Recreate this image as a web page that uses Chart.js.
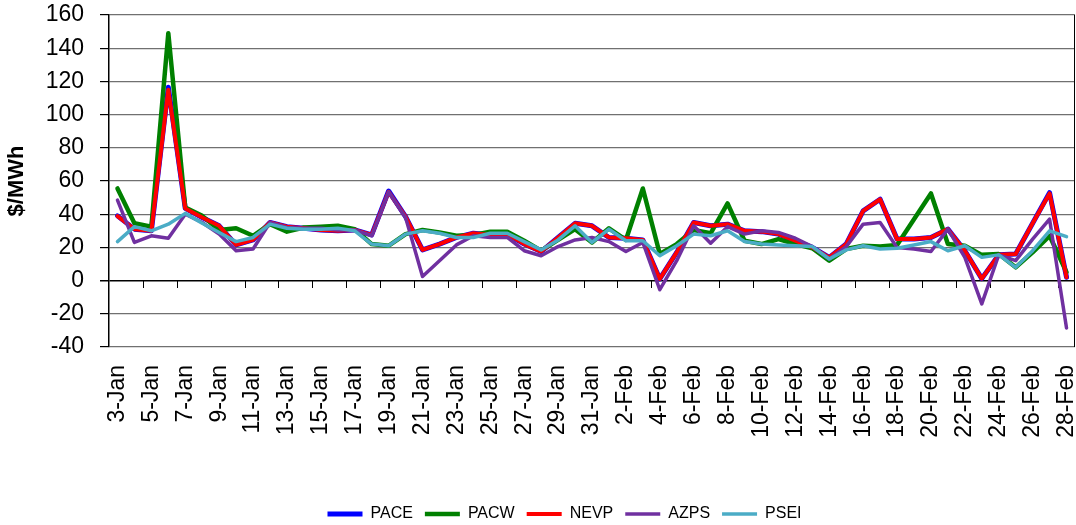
<!DOCTYPE html>
<html>
<head>
<meta charset="utf-8">
<script src="https://cdn.jsdelivr.net/npm/chart.js@4.4.1/dist/chart.umd.min.js"></script>
<style>
  html, body { margin: 0; padding: 0; background: #fff; }
  #wrap { width: 1076px; height: 525px; }
</style>
</head>
<body>
<div id="wrap"><canvas id="c" width="1076" height="525"></canvas></div>
<script>
// Daily categories, 3 Jan – 28 Feb
const dates = [
  '3-Jan','4-Jan','5-Jan','6-Jan','7-Jan','8-Jan','9-Jan','10-Jan','11-Jan','12-Jan',
  '13-Jan','14-Jan','15-Jan','16-Jan','17-Jan','18-Jan','19-Jan','20-Jan','21-Jan','22-Jan',
  '23-Jan','24-Jan','25-Jan','26-Jan','27-Jan','28-Jan','29-Jan','30-Jan','31-Jan',
  '1-Feb','2-Feb','3-Feb','4-Feb','5-Feb','6-Feb','7-Feb','8-Feb','9-Feb','10-Feb',
  '11-Feb','12-Feb','13-Feb','14-Feb','15-Feb','16-Feb','17-Feb','18-Feb','19-Feb','20-Feb',
  '21-Feb','22-Feb','23-Feb','24-Feb','25-Feb','26-Feb','27-Feb','28-Feb'
];

// Prices, $/MWh
const pace = [39,31,30,116.5,43.5,38,33,21.5,24.5,35,32.5,31.5,30.5,30,30.5,27.5,54,38.5,18.5,22,
  26,28.5,27.5,28,22,17.5,26,34.5,33,26,25.5,24.5,1,17,35,33,34,30,29.5,28,
  24,20,14,22,42,49,25,25,26,31,18,1.2,15.5,16,34.5,53,2];
const pacw = [55.5,34.5,32.5,149,44,39,30.5,31.5,27,34,29.5,32,32.5,33,31,22,21,28,30.5,29,
  27,27.5,29.5,29.5,24,18,24.5,31,23,31.5,24.5,55.5,16,22,30.5,28.5,46.5,24,22,25,
  22,19.5,12,19,21,20.5,21.5,37,52.5,22,21,15.5,16,8,17,27,5];
const nevp = [38.8,31,30,115,43.5,38,33,21.5,24.5,35,32.5,31.5,30.5,30,30.5,27.5,53.5,38.5,18.5,22,
  26,28.5,27.5,28,22,17.5,26,34.5,33,26,25.5,24.5,1,17,35,33,34,30,29.5,28,
  24,20,14,22,42,49,25,25,26,31,18,1.2,15.5,16,34.5,52.5,2];
const azps = [48.5,23,27,25.5,40,35,28,18,19,35,32,31.5,31.5,30.5,30.5,27,53.5,38,2.5,12,
  21.5,27,26,26,18,15,20.5,24.5,26,23.5,17.5,23,-5.5,12,33,22.5,32.5,28,30,29,
  25.5,20.5,13,20.5,34,35,20,19,17.5,31,14,-14,15.5,12,25,37,-28.5];
const psei = [23.5,32.5,30,34,40.5,34.5,29,23.5,26,34,31.5,31,31,31.5,30,22,21,28,30,28.5,
  26,26,28.5,28.5,23.5,18.5,24.5,33,23,31,24,24,15,21,28,27,30,23.5,22,21.5,
  21,20.5,13,18.5,21,19,19.5,21.5,23.5,18,21,14,15.5,8,18,30,26.5];

const FONT = "'Liberation Sans', Arial, sans-serif";

function series(label, data, color, width, order) {
  return {
    label, data, order,
    borderColor: color, backgroundColor: color,
    borderWidth: width, pointRadius: 0, pointHoverRadius: 0,
    tension: 0, fill: false,
    borderCapStyle: 'round', borderJoinStyle: 'round'
  };
}

// Right frame edge and category tick marks on the zero line
const axisMarks = {
  id: 'axisMarks',
  afterLayout(chart) {
    // nudge the legend row a little to the right
    chart.legend.left += 54;
  },
  beforeDatasetsDraw(chart) {
    const { ctx, chartArea: a, scales: { x, y } } = chart;
    ctx.save();
    ctx.strokeStyle = '#000';
    ctx.lineWidth = 1;
    ctx.beginPath();
    ctx.moveTo(Math.round(a.right) - 0.5, a.top);
    ctx.lineTo(Math.round(a.right) - 0.5, a.bottom);
    const y0 = Math.round(y.getPixelForValue(0));
    for (let i = 2; i < dates.length; i += 2) {
      const px = Math.round((x.getPixelForValue(i - 1) + x.getPixelForValue(i)) / 2) + 0.5;
      ctx.moveTo(px, y0);
      ctx.lineTo(px, y0 + 7);
    }
    ctx.stroke();
    ctx.restore();
  }
};

new Chart(document.getElementById('c'), {
  type: 'line',
  data: {
    labels: dates,
    datasets: [
      series('PACE', pace, '#0000FF', 5, 5),
      series('PACW', pacw, '#008000', 4.5, 4),
      series('NEVP', nevp, '#FF0000', 4, 3),
      series('AZPS', azps, '#7030A0', 3.5, 2),
      series('PSEI', psei, '#4BACC6', 3.5, 1)
    ]
  },
  options: {
    responsive: false,
    animation: false,
    devicePixelRatio: 1,
    layout: { padding: { left: 0, right: 1, top: 15, bottom: -7 } },
    plugins: {
      tooltip: { enabled: false },
      legend: {
        position: 'bottom',
        labels: {
          usePointStyle: true,
          pointStyle: 'line',
          pointStyleWidth: 35,
          padding: 12,
          color: '#000',
          font: { family: FONT, size: 16 },
          sort: (a, b) => a.datasetIndex - b.datasetIndex
        }
      }
    },
    scales: {
      x: {
        offset: true,
        grid: { display: false, drawTicks: false },
        border: { display: false },
        ticks: {
          autoSkip: false,
          minRotation: 90,
          maxRotation: 90,
          padding: 18,
          color: '#000',
          font: { family: FONT, size: 23 },
          callback: function (v, i) { return i % 2 ? '' : this.getLabelForValue(v); }
        },
        afterFit: s => {
          s.height = 147;
          s.paddingLeft = 0;
          s.paddingRight = 0;
        }
      },
      y: {
        min: -40,
        max: 160,
        ticks: {
          stepSize: 20,
          padding: 16,
          color: '#000',
          font: { family: FONT, size: 23 }
        },
        grid: {
          color: c => (c.tick && c.tick.value === 0 ? '#000' : '#707070'),
          lineWidth: c => (c.tick && c.tick.value === 0 ? 1.5 : 1.2),
          tickLength: 9,
          tickColor: '#000'
        },
        border: { color: '#000', width: 1.5 },
        title: {
          display: true,
          text: '$/MWh',
          color: '#000',
          font: { family: FONT, size: 22, weight: 'bold' },
          padding: { top: 4, bottom: 0 }
        },
        afterFit: s => {
          s.width = 109;
          s.paddingTop = 0;
          s.paddingBottom = 0;
        }
      }
    }
  },
  plugins: [axisMarks]
});
</script>
</body>
</html>
